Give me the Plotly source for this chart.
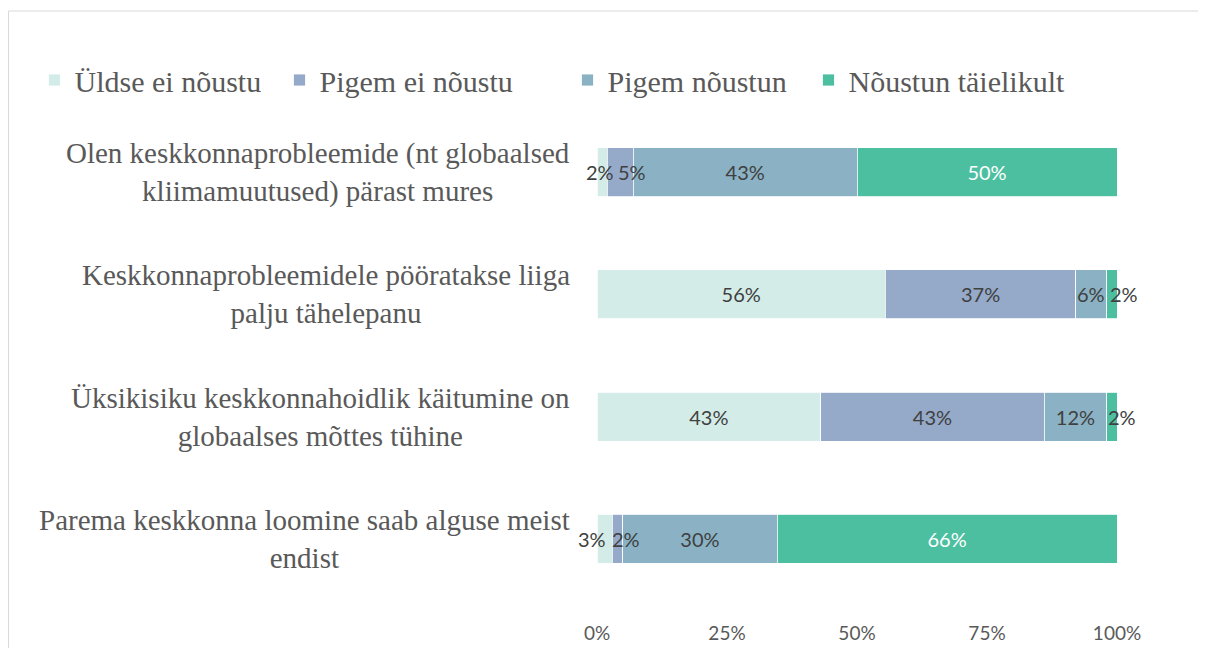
import plotly.graph_objects as go

categories = [
    "Olen keskkonnaprobleemide (nt globaalsed<br>kliimamuutused) pärast mures",
    "Keskkonnaprobleemidele pööratakse liiga<br>palju tähelepanu",
    "Üksikisiku keskkonnahoidlik käitumine on<br>globaalses mõttes tühine",
    "Parema keskkonna loomine saab alguse meist<br>endist",
]
series_names = ["Üldse ei nõustu", "Pigem ei nõustu", "Pigem nõustun", "Nõustun täielikult"]
uldse_ei = [2, 56, 43, 3]
pigem_ei = [5, 37, 43, 2]
pigem_jah = [43, 6, 12, 30]
taielikult = [50, 2, 2, 66]
x_ticks = [0, 25, 50, 75, 100]

series_values = [uldse_ei, pigem_ei, pigem_jah, taielikult]
colors = ["#D4ECE8", "#95A9C9", "#8AB2C4", "#4CBFA0"]
text_colors = ["#404040", "#404040", "#404040", "#FFFFFF"]
ids = list(range(len(categories)))

# label nudges (px) for labels of narrow segments, keyed by (series index, row index)
small_label_shift = {(0, 0): -2, (1, 0): 12, (2, 1): 0, (3, 1): 12,
                     (3, 2): 10, (0, 3): -13, (1, 3): 8}
SMALL = 8
LABEL_SIZE = 20

W, H = 1206, 648
PL, PT = 589, 103
pw, ph = 520, 489
PR, PB = W - PL - pw, H - PT - ph

legend_x_fig = [26.5, 271.5, 559.5, 800.5]
legend_names = ["legend", "legend2", "legend3", "legend4"]

fig = go.Figure()
for s, (name, vals, col, tcol) in enumerate(zip(series_names, series_values, colors, text_colors)):
    fig.add_trace(go.Bar(
        y=ids, x=vals, name=name, orientation="h",
        marker=dict(color=col, line=dict(color="white", width=0.8)),
        text=[f"{v}%" if v >= SMALL else "" for v in vals],
        textposition="inside", textangle=0,
        insidetextanchor="middle", constraintext="none",
        textfont=dict(family="Lato", size=LABEL_SIZE, color=tcol),
        width=0.4, hoverinfo="skip", legend=legend_names[s],
    ))

# labels for narrow segments, placed at the normalized segment centre
totals = [sum(sv[r] for sv in series_values) for r in ids]
for r in ids:
    cum = 0
    for s, sv in enumerate(series_values):
        v = sv[r]
        if v < SMALL:
            centre = (cum + v / 2) / totals[r] * 100
            fig.add_annotation(
                x=centre, xref="x", y=r, yref="y", text=f"{v}%", showarrow=False,
                xshift=small_label_shift.get((s, r), 0),
                font=dict(family="Lato", size=LABEL_SIZE, color="#404040"),
            )
        cum += v

for i, c in enumerate(categories):
    fig.add_annotation(
        x=(564 - PL) / pw, xref="paper", y=i, yref="y", text=c,
        xanchor="right", yanchor="middle", align="center", showarrow=False,
        font=dict(family="Liberation Serif", size=29, color="#595959"),
    )

fig.add_shape(type="rect", xref="paper", yref="paper",
              x0=(0.5 - PL) / pw, x1=(W + 20 - PL) / pw,
              y0=(PT + ph - (H + 20)) / ph, y1=(PT + ph - 3) / ph,
              line=dict(color="#D9D9D9", width=1), fillcolor="rgba(0,0,0,0)", layer="below")

legend_common = dict(orientation="h", xref="paper", yref="paper", xanchor="left",
                     y=(PT + ph - 72) / ph, yanchor="middle",
                     font=dict(family="Liberation Serif", size=30, color="#595959"),
                     itemwidth=30, bgcolor="rgba(0,0,0,0)")
legend_layout = {ln: dict(legend_common, x=(lx - PL) / pw)
                 for ln, lx in zip(legend_names, legend_x_fig)}

fig.update_layout(
    width=W, height=H, barmode="stack", barnorm="percent",
    margin=dict(l=PL, r=PR, t=PT, b=PB),
    paper_bgcolor="white", plot_bgcolor="white",
    showlegend=True,
    xaxis=dict(range=[0, 100], tickvals=x_ticks, ticktext=[f"{t}%" for t in x_ticks],
               showgrid=False, zeroline=False, showline=False,
               tickfont=dict(family="Lato", size=19, color="#595959"),
               ticklabelstandoff=20),
    yaxis=dict(range=[3.5, -0.5], showticklabels=False, showgrid=False,
               zeroline=False, showline=False),
    **legend_layout,
)

fig.write_html("out.html")
